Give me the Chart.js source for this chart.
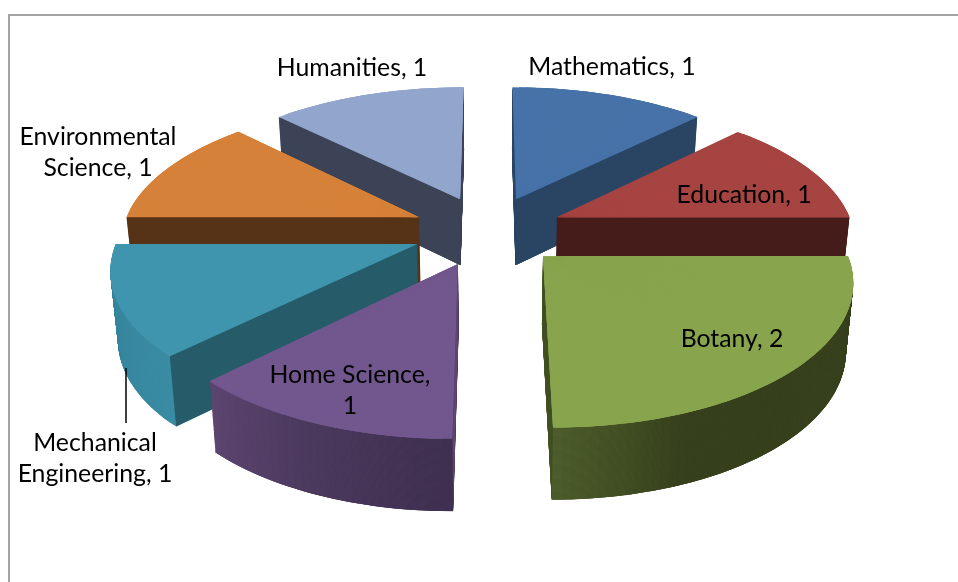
<!DOCTYPE html>
<html>
<head>
<meta charset="utf-8">
<style>
  html, body { margin: 0; padding: 0; background: #fff; overflow: hidden; }
  #frame { position: absolute; left: 8px; top: 14px; right: 0; bottom: 0; border-left: 2px solid #a3a3a3; border-top: 2px solid #a3a3a3; }
  #chart { position: absolute; left: 0; top: 0; }
</style>
<script src="https://cdn.jsdelivr.net/npm/chart.js@4"></script>
</head>
<body>
<div id="frame"></div>
<canvas id="chart" width="958" height="582"></canvas>
<script>
// ── Data ──────────────────────────────────
const categories = ['Mathematics', 'Education', 'Botany', 'Home Science', 'Mechanical Engineering', 'Environmental Science', 'Humanities'];
const counts = [1, 1, 2, 1, 1, 1, 1];

// ── Slice colours ─────────────────────────
const topColors = ['#4672a8', '#a64442', '#88a44d', '#71578d', '#4095ae', '#d68139', '#92a6cd'];
const cutColors = ['#2a4564', '#451c1a', '#3f4f22', '#5c4570', '#265c6a', '#563217', '#3c4356'];
// outer wall, from the slice's start angle to its end angle
const wallColors = [
  ['#2a4564', '#2a4564'],
  ['#451c1a', '#451c1a'],
  ['#37411d', '#37411d', '#37411d', '#37411d', '#4e5e2c'],
  ['#40304f', '#4c3a5e', '#5e4772'],
  ['#3a8ca3', '#35809a'],
  ['#563217', '#563217'],
  ['#3c4356', '#3c4356'],
];

// ── Label layout (centre of first line, wrap width) ──
const labelPlaces = [
  [612, 67, 180], [744, 195, 180], [732, 339, 180], [350, 375, 170],
  [95, 443, 170], [98, 137, 170], [352, 68, 180],
];
const LABEL_FONT = '24.8px Lato, "Open Sans", sans-serif';
const LINE_HEIGHT = 31.5;

// ── Camera for the tilted pie ─────────────
const CAM = { dx: 9, dy: -60.5, sx: 1.02, sy: 0.472, depth: 67, persp: 0.15, explode: 0.255, taper: 0.02 };
const STRIP_DEG = 1.5;

function project(arc, x, y, z) {
  const w = 1 + CAM.persp * y;
  const r = arc.outerRadius;
  return {
    x: arc.x + CAM.dx + (x * r * CAM.sx / w) * (1 - CAM.taper * z),
    y: arc.y + CAM.dy - y * r * CAM.sy / w + z * CAM.depth / (1 + CAM.persp * 0.4 * y),
  };
}

function hexMix(a, b, t) {
  const p = s => [1, 3, 5].map(i => parseInt(s.slice(i, i + 2), 16));
  const ca = p(a), cb = p(b);
  return 'rgb(' + ca.map((v, i) => Math.round(v + (cb[i] - v) * t)).join(',') + ')';
}

function stopColor(stops, t) {
  const pos = t * (stops.length - 1);
  const i = Math.min(Math.floor(pos), stops.length - 2);
  return hexMix(stops[i], stops[i + 1], pos - i);
}

// draw one wedge of the library's arc, mapped on to the pie plane at height z.
// a1..a2 sets the mapping, drawEnd lets the wedge run on under the next one
function drawWedge(ctx, arc, a1, a2, drawEnd, z, color) {
  const mid = (arc.startAngle + arc.endAngle) / 2;
  const ox = Math.cos(mid) * CAM.explode, oy = -Math.sin(mid) * CAM.explode;
  const A = project(arc, ox, oy, z);
  const P1 = project(arc, ox + Math.cos(a1), oy - Math.sin(a1), z);
  const P2 = project(arc, ox + Math.cos(a2), oy - Math.sin(a2), z);
  const r = arc.outerRadius;
  const u1 = [Math.cos(a1) * r, Math.sin(a1) * r], u2 = [Math.cos(a2) * r, Math.sin(a2) * r];
  const det = u1[0] * u2[1] - u2[0] * u1[1];
  const v1 = [P1.x - A.x, P1.y - A.y], v2 = [P2.x - A.x, P2.y - A.y];
  const m11 = (v1[0] * u2[1] - v2[0] * u1[1]) / det;
  const m12 = (v2[0] * u1[0] - v1[0] * u2[0]) / det;
  const m21 = (v1[1] * u2[1] - v2[1] * u1[1]) / det;
  const m22 = (v2[1] * u1[0] - v1[1] * u2[0]) / det;

  const piece = Object.create(arc);
  piece.startAngle = a1;
  piece.endAngle = drawEnd;
  piece.circumference = drawEnd - a1;
  piece.options = {
    backgroundColor: color, borderColor: 'transparent', borderWidth: 0, borderAlign: 'center',
    offset: 0, spacing: 0, borderRadius: 0, circular: true, borderDash: [], borderDashOffset: 0,
  };
  ctx.save();
  ctx.translate(A.x, A.y);
  ctx.transform(m11, m21, m12, m22, 0, 0);
  ctx.translate(-arc.x, -arc.y);
  piece.draw(ctx);
  ctx.restore();
}

function drawCut(ctx, arc, angle, color) {
  const mid = (arc.startAngle + arc.endAngle) / 2;
  const ox = Math.cos(mid) * CAM.explode, oy = -Math.sin(mid) * CAM.explode;
  const ex = ox + Math.cos(angle), ey = oy - Math.sin(angle);
  const pts = [project(arc, ox, oy, 0), project(arc, ex, ey, 0), project(arc, ex, ey, 1), project(arc, ox, oy, 1)];
  ctx.beginPath();
  pts.forEach((p, i) => (i ? ctx.lineTo(p.x, p.y) : ctx.moveTo(p.x, p.y)));
  ctx.closePath();
  ctx.fillStyle = color;
  ctx.fill();
}

function drawFace(ctx, arc, z, n, colorAt) {
  const a1 = arc.startAngle, a2 = arc.endAngle;
  const step = (a2 - a1) / n;
  for (let s = 0; s < n; s++) {
    const from = a1 + step * s;
    const to = s === n - 1 ? a2 : from + step;
    const runOn = s === n - 1 ? a2 : Math.min(a2, to + step * 2);
    drawWedge(ctx, arc, from, to, runOn, z, colorAt((s + 0.5) / n));
  }
}

function drawSlice(ctx, arc, i) {
  const a1 = arc.startAngle, a2 = arc.endAngle;
  const n = Math.max(1, Math.round((a2 - a1) / (STRIP_DEG * Math.PI / 180)));

  // outer wall, stacked from the bottom up
  for (let z = 1; z > 0; z -= 1 / CAM.depth) {
    drawFace(ctx, arc, z, n, t => stopColor(wallColors[i], t));
  }

  // straight cut faces that turn towards the viewer
  const mid = (a1 + a2) / 2;
  const ox = Math.cos(mid) * CAM.explode, oy = -Math.sin(mid) * CAM.explode;
  const apex = project(arc, ox, oy, 0);
  const pStart = project(arc, ox + Math.cos(a1), oy - Math.sin(a1), 0);
  const pEnd = project(arc, ox + Math.cos(a2), oy - Math.sin(a2), 0);
  if (pStart.x < apex.x) drawCut(ctx, arc, a1, cutColors[i]);
  if (pEnd.x > apex.x) drawCut(ctx, arc, a2, cutColors[i]);

  // top face
  drawFace(ctx, arc, 0, n, () => topColors[i]);
}

function wrapLabel(ctx, text, maxWidth) {
  const lines = [];
  let line = '';
  text.split(' ').forEach(word => {
    const next = line ? line + ' ' + word : word;
    if (line && ctx.measureText(next).width > maxWidth) {
      lines.push(line);
      line = word;
    } else {
      line = next;
    }
  });
  lines.push(line);
  return lines;
}

// ── 3D pie plugin ─────────────────────────
const pie3d = {
  id: 'pie3d',
  beforeDatasetDraw(chart) {
    const ctx = chart.ctx;
    const arcs = chart.getDatasetMeta(0).data;
    const order = arcs.map((arc, i) => i).sort((a, b) => {
      const ma = (arcs[a].startAngle + arcs[a].endAngle) / 2;
      const mb = (arcs[b].startAngle + arcs[b].endAngle) / 2;
      return Math.sin(ma) - Math.sin(mb);
    });
    order.forEach(i => drawSlice(ctx, arcs[i], i));
    return false;
  },
  afterDraw(chart) {
    const ctx = chart.ctx;
    ctx.save();
    // leader line of the Mechanical Engineering label
    ctx.strokeStyle = '#000';
    ctx.lineWidth = 1.5;
    ctx.beginPath();
    ctx.moveTo(126, 368);
    ctx.lineTo(126, 423);
    ctx.stroke();

    ctx.font = LABEL_FONT;
    ctx.fillStyle = '#000';
    ctx.textAlign = 'center';
    ctx.textBaseline = 'middle';
    categories.forEach((name, i) => {
      const [x, y, wrap] = labelPlaces[i];
      wrapLabel(ctx, name + ', ' + counts[i], wrap).forEach((line, l) => {
        ctx.fillText(line, x, y + l * LINE_HEIGHT);
      });
    });
    ctx.restore();
  },
};

new Chart(document.getElementById('chart'), {
  type: 'pie',
  data: {
    labels: categories,
    datasets: [{ data: counts, backgroundColor: topColors, borderWidth: 0 }],
  },
  options: {
    responsive: false,
    animation: false,
    plugins: { legend: { display: false }, tooltip: { enabled: false } },
  },
  plugins: [pie3d],
});
</script>
</body>
</html>
